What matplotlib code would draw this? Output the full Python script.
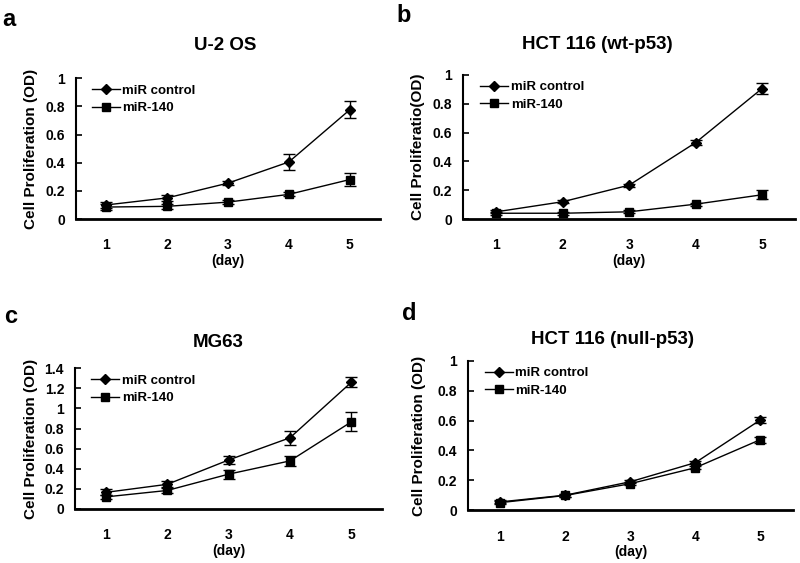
import matplotlib
matplotlib.use("Agg")
import matplotlib.pyplot as plt

plt.rcParams['font.family'] = ['Liberation Sans', 'DejaVu Sans']
plt.rcParams['font.weight'] = 'bold'

days = [1, 2, 3, 4, 5]
day_labels = ["1", "2", "3", "4", "5"]

# panel a: U-2 OS
a_ctrl = [0.10, 0.15, 0.255, 0.405, 0.775]
a_ctrl_err = [0.02, 0.02, 0.015, 0.06, 0.06]
a_140 = [0.085, 0.09, 0.12, 0.175, 0.28]
a_140_err = [0.02, 0.02, 0.015, 0.015, 0.045]

# panel b: HCT 116 (wt-p53)
b_ctrl = [0.05, 0.12, 0.235, 0.53, 0.905]
b_ctrl_err = [0.01, 0.01, 0.01, 0.015, 0.038]
b_140 = [0.04, 0.04, 0.05, 0.103, 0.168]
b_140_err = [0.01, 0.01, 0.01, 0.01, 0.03]

# panel c: MG63
c_ctrl = [0.165, 0.245, 0.487, 0.708, 1.26]
c_ctrl_err = [0.03, 0.035, 0.04, 0.07, 0.05]
c_140 = [0.12, 0.184, 0.346, 0.478, 0.866]
c_140_err = [0.02, 0.03, 0.045, 0.05, 0.095]

# panel d: HCT 116 (null-p53)
d_ctrl = [0.055, 0.10, 0.19, 0.318, 0.604]
d_ctrl_err = [0.01, 0.01, 0.01, 0.01, 0.02]
d_140 = [0.05, 0.098, 0.177, 0.284, 0.472]
d_140_err = [0.01, 0.01, 0.01, 0.01, 0.02]

panels = [
    dict(letter="a", title="U-2 OS", ylabel="Cell Proliferation (OD)",
         ctrl=a_ctrl, ctrl_err=a_ctrl_err, m140=a_140, m140_err=a_140_err,
         ymax=1.0, ystep=0.2, rect=[0.095, 0.611, 0.380, 0.250],
         tx=0.49, ty=1.234, lx=-0.125, letter_xy=(0.011, 0.966)),
    dict(letter="b", title="HCT 116 (wt-p53)", ylabel="Cell Proliferatio(OD)",
         ctrl=b_ctrl, ctrl_err=b_ctrl_err, m140=b_140, m140_err=b_140_err,
         ymax=1.0, ystep=0.2, rect=[0.579, 0.611, 0.415, 0.256],
         tx=0.404, ty=1.208, lx=-0.115, letter_xy=(0.504, 0.972)),
    dict(letter="c", title="MG63", ylabel="Cell Proliferation (OD)",
         ctrl=c_ctrl, ctrl_err=c_ctrl_err, m140=c_140, m140_err=c_140_err,
         ymax=1.4, ystep=0.2, rect=[0.094, 0.096, 0.3835, 0.250],
         tx=0.466, ty=1.184, lx=-0.121, letter_xy=(0.013, 0.437)),
    dict(letter="d", title="HCT 116 (null-p53)", ylabel="Cell Proliferation (OD)",
         ctrl=d_ctrl, ctrl_err=d_ctrl_err, m140=d_140, m140_err=d_140_err,
         ymax=1.0, ystep=0.2, rect=[0.585, 0.094, 0.406, 0.265],
         tx=0.446, ty=1.141, lx=-0.129, letter_xy=(0.511, 0.444)),
]

fig = plt.figure(figsize=(8.0, 5.63), dpi=100)

for p in panels:
    ax = fig.add_axes(p["rect"])
    ax.errorbar(days, p["ctrl"], yerr=p["ctrl_err"], fmt="none", ecolor="black",
                capsize=4, elinewidth=1.0, capthick=1.0)
    ax.errorbar(days, p["m140"], yerr=p["m140_err"], fmt="none", ecolor="black",
                capsize=4, elinewidth=1.0, capthick=1.0)
    ax.plot(days, p["ctrl"], color="black", lw=1.0, marker="D", markersize=5.5,
            label="miR control")
    ax.plot(days, p["m140"], color="black", lw=1.0, marker="s", markersize=5.5,
            label="miR-140")
    ax.set_xlim(0.5, 5.5)
    ax.set_ylim(0, p["ymax"])
    n = int(round(p["ymax"] / p["ystep"]))
    yt = [i * p["ystep"] for i in range(n + 1)]
    ax.set_yticks(yt)
    ax.set_yticklabels([("%g" % round(v, 1)) for v in yt], fontsize=10, fontweight="bold")
    ax.set_xticks(days)
    ax.set_xticklabels(day_labels, fontsize=10, fontweight="bold")
    ax.tick_params(axis="y", direction="in", length=4, width=1.2, pad=8)
    ax.tick_params(axis="x", length=0, pad=14)
    for s in ["top", "right"]:
        ax.spines[s].set_visible(False)
    ax.spines["left"].set_linewidth(1.5)
    ax.spines["bottom"].set_linewidth(2.0)
    ax.set_xlabel("(day)", fontsize=10, fontweight="bold", labelpad=1)
    ax.set_ylabel(p["ylabel"], fontsize=11, fontweight="bold")
    ax.yaxis.set_label_coords(p["lx"], 0.5)
    ax.text(p["tx"], p["ty"], p["title"], transform=ax.transAxes, ha="center",
            va="center", fontsize=13.5, fontweight="bold")
    fig.text(p["letter_xy"][0], p["letter_xy"][1], p["letter"], ha="center",
             va="center", fontsize=17, fontweight="bold")
    leg = ax.legend(loc="upper left", frameon=False, fontsize=9.5,
                    handlelength=2.1, handletextpad=0.2, labelspacing=0.42,
                    borderaxespad=0.0, borderpad=0.3, bbox_to_anchor=(0.04, 0.985))
    for t in leg.get_texts():
        t.set_fontweight("bold")

fig.savefig("out.png", dpi=100)
